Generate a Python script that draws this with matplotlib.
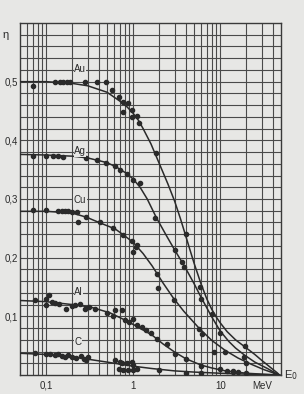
import matplotlib
matplotlib.use("Agg")
import matplotlib.pyplot as plt

# ---- data ----
au_e = [0.05, 0.1, 0.2, 0.3, 0.5, 0.7, 0.85, 1.0, 1.15, 1.3, 1.6, 2.0, 2.5, 3.0, 3.5, 4.0, 4.5, 5.0, 6.0, 7.0, 8.0, 9.0, 10, 12, 15, 20, 25, 30, 35, 40, 45, 48]
au_y = [0.50, 0.50, 0.497, 0.493, 0.482, 0.467, 0.457, 0.446, 0.434, 0.42, 0.394, 0.36, 0.326, 0.296, 0.266, 0.238, 0.213, 0.191, 0.156, 0.130, 0.112, 0.099, 0.089, 0.074, 0.060, 0.046, 0.035, 0.025, 0.017, 0.010, 0.004, 0.0]

ag_e = [0.05, 0.1, 0.2, 0.3, 0.5, 0.65, 0.85, 1.0, 1.2, 1.45, 1.85, 2.4, 3.0, 3.8, 5.0, 6.0, 8.0, 10, 12.6, 15, 19, 25, 30, 35, 40, 45, 48]
ag_y = [0.376, 0.375, 0.373, 0.37, 0.362, 0.354, 0.343, 0.334, 0.32, 0.30, 0.268, 0.238, 0.213, 0.188, 0.156, 0.133, 0.099, 0.075, 0.057, 0.046, 0.034, 0.022, 0.016, 0.011, 0.006, 0.002, 0.0]

cu_e = [0.05, 0.1, 0.2, 0.29, 0.42, 0.62, 0.77, 1.0, 1.3, 1.65, 2.2, 2.9, 3.8, 5.7, 8.0, 11.4, 16, 23, 32, 40, 48]
cu_y = [0.279, 0.279, 0.276, 0.269, 0.259, 0.249, 0.239, 0.226, 0.207, 0.186, 0.157, 0.131, 0.109, 0.08, 0.059, 0.042, 0.029, 0.018, 0.009, 0.004, 0.0]

al_e = [0.05, 0.1, 0.2, 0.32, 0.54, 0.77, 1.1, 1.65, 2.2, 3.0, 4.0, 6.0, 8.0, 11.5, 20, 30, 48]
al_y = [0.127, 0.125, 0.12, 0.116, 0.106, 0.095, 0.083, 0.068, 0.053, 0.039, 0.028, 0.017, 0.012, 0.007, 0.003, 0.0015, 0.0]

c_e = [0.05, 0.1, 0.2, 0.3, 0.5, 1.0, 1.65, 3.0, 5.0, 10, 20, 48]
c_y = [0.037, 0.035, 0.031, 0.027, 0.022, 0.015, 0.011, 0.007, 0.005, 0.003, 0.0015, 0.0]

au_dot_e = [0.07, 0.127, 0.145, 0.158, 0.172, 0.19, 0.28, 0.38, 0.49, 0.57, 0.68, 0.77, 0.88, 0.76, 0.97, 0.97, 1.1, 1.18, 1.84, 4.0, 5.9, 8.1, 19.2]
au_dot_y = [0.493, 0.50, 0.50, 0.50, 0.50, 0.499, 0.499, 0.50, 0.50, 0.486, 0.474, 0.466, 0.463, 0.449, 0.452, 0.44, 0.442, 0.429, 0.379, 0.24, 0.15, 0.104, 0.05]

ag_dot_e = [0.071, 0.10, 0.12, 0.138, 0.158, 0.29, 0.38, 0.49, 0.62, 0.71, 0.85, 0.99, 1.2, 1.8, 3.06, 3.6, 3.83, 6.0, 10.0, 19.0]
ag_dot_y = [0.374, 0.374, 0.374, 0.373, 0.372, 0.37, 0.367, 0.362, 0.357, 0.35, 0.343, 0.332, 0.327, 0.268, 0.213, 0.192, 0.184, 0.13, 0.072, 0.031]

cu_dot_e = [0.071, 0.1, 0.138, 0.151, 0.166, 0.18, 0.197, 0.226, 0.235, 0.29, 0.41, 0.59, 0.77, 0.97, 1.0, 1.08, 1.1, 1.87, 1.92, 2.93, 5.7, 6.2, 11.5, 20]
cu_dot_y = [0.281, 0.281, 0.28, 0.28, 0.279, 0.279, 0.277, 0.277, 0.26, 0.269, 0.26, 0.25, 0.239, 0.229, 0.21, 0.219, 0.222, 0.172, 0.149, 0.127, 0.079, 0.07, 0.039, 0.02]

al_dot_e = [0.075, 0.1, 0.109, 0.1, 0.116, 0.127, 0.14, 0.17, 0.197, 0.215, 0.246, 0.28, 0.31, 0.36, 0.5, 0.58, 0.62, 0.74, 0.8, 0.9, 1.0, 1.1, 1.25, 1.4, 1.6, 1.9, 2.45, 3.06, 4.0, 6.0, 8.4, 10, 14]
al_dot_y = [0.127, 0.129, 0.136, 0.119, 0.125, 0.122, 0.121, 0.113, 0.117, 0.119, 0.121, 0.113, 0.116, 0.112, 0.105, 0.100, 0.111, 0.111, 0.094, 0.090, 0.095, 0.085, 0.082, 0.077, 0.072, 0.062, 0.053, 0.036, 0.027, 0.016, 0.039, 0.010, 0.006]

c_dot_e = [0.075, 0.1, 0.11, 0.127, 0.138, 0.15, 0.165, 0.18, 0.2, 0.22, 0.25, 0.27, 0.29, 0.3, 0.62, 0.71, 0.74, 0.85, 0.97, 1.0, 0.68, 0.77, 0.88, 1.0, 1.1, 2.0, 4.0, 6.0, 12, 14, 16, 20]
c_dot_y = [0.037, 0.036, 0.035, 0.034, 0.036, 0.033, 0.031, 0.034, 0.031, 0.029, 0.033, 0.028, 0.025, 0.030, 0.026, 0.023, 0.020, 0.021, 0.023, 0.017, 0.010, 0.009, 0.009, 0.009, 0.010, 0.008, 0.004, 0.004, 0.006, 0.005, 0.005, 0.004]

labels = ["Au", "Ag", "Cu", "Al", "C"]
label_e = [0.245, 0.245, 0.245, 0.235, 0.23]
label_y = [0.522, 0.381, 0.299, 0.141, 0.057]

ytick_vals = [0.1, 0.2, 0.3, 0.4, 0.5]
ytick_labels = ["0,1", "0,2", "0,3", "0,4", "0,5"]
xtick_vals = [0.1, 1, 10, 30]
xtick_labels = ["0,1", "1", "10", "MeV"]

# ---- figure ----
bg = "#e7e7e5"
ink = "#2a2a2a"
plt.rcParams['font.family'] = ['Liberation Sans', 'DejaVu Sans']

fig = plt.figure(figsize=(3.04, 3.94), dpi=100, facecolor=bg)
ax = fig.add_axes([20/304, 19/394, 261/304, 352/394])
ax.set_facecolor(bg)
ax.set_xscale("log")
ax.set_xlim(0.05, 50)
ax.set_ylim(0, 0.6)

# grid lines
vlines = [m * 10**k for k in (-2, -1, 0, 1) for m in range(1, 10)]
vlines = [v for v in vlines if 0.05 < v < 49]
for v in vlines:
    ax.axvline(v, color="#4a4a4a", lw=0.8, zorder=1)
for i in range(1, 30):
    ax.axhline(i * 0.02, color="#4a4a4a", lw=0.8, zorder=1)
for s in ax.spines.values():
    s.set_color("#3a3a3a")
    s.set_linewidth(1.0)

curves = [(au_e, au_y), (ag_e, ag_y), (cu_e, cu_y), (al_e, al_y), (c_e, c_y)]
dots = [(au_dot_e, au_dot_y), (ag_dot_e, ag_dot_y), (cu_dot_e, cu_dot_y),
        (al_dot_e, al_dot_y), (c_dot_e, c_dot_y)]
for (e, y) in curves:
    ax.plot(e, y, color=ink, lw=1.1, zorder=3, solid_joinstyle="round")
for (e, y) in dots:
    ax.plot(e, y, linestyle="none", marker="o", ms=3.0, color=ink, zorder=4)

for t, e, y in zip(labels, label_e, label_y):
    ax.text(e, y, t, fontsize=7, color=ink, ha="center", va="center", zorder=5,
            bbox=dict(boxstyle="square,pad=0.05", fc=bg, ec="none"))

ax.set_yticks(ytick_vals)
ax.set_yticklabels(ytick_labels)
ax.set_xticks(xtick_vals)
ax.set_xticklabels(xtick_labels)
ax.xaxis.set_minor_locator(matplotlib.ticker.NullLocator())
ax.tick_params(axis="both", length=0, labelsize=7, colors=ink, pad=4)
ax.tick_params(axis="y", pad=1.5)

ax.text(-0.055, 0.965, "η", transform=ax.transAxes, fontsize=8, color=ink,
        ha="center", va="center")
ax.text(1.01, 0.0, "E$_0$", transform=ax.transAxes, fontsize=8, color=ink,
        ha="left", va="center")

fig.savefig("out.png", dpi=100, facecolor=bg)
